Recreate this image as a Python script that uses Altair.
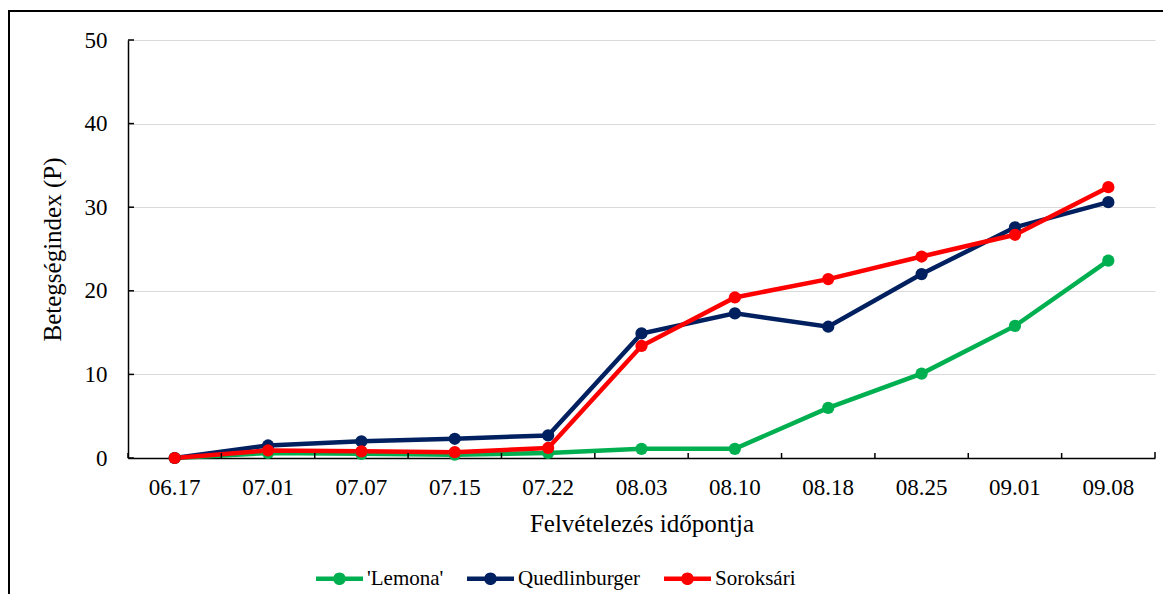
import altair as alt
import pandas as pd

dates = ["06.17", "07.01", "07.07", "07.15", "07.22", "08.03", "08.10", "08.18", "08.25", "09.01", "09.08"]
series_names = ["'Lemona'", "Quedlinburger", "Soroksári"]
lemona = [0.0, 0.6, 0.5, 0.4, 0.6, 1.1, 1.1, 6.0, 10.1, 15.8, 23.6]
quedlinburger = [0.0, 1.5, 2.0, 2.3, 2.7, 14.9, 17.3, 15.7, 22.0, 27.6, 30.6]
soroksari = [0.0, 0.9, 0.8, 0.7, 1.2, 13.4, 19.2, 21.4, 24.1, 26.7, 32.4]
colors = ["#00b050", "#002060", "#ff0000"]
y_ticks = [0, 10, 20, 30, 40, 50]

rows = []
for name, vals in zip(series_names, [lemona, quedlinburger, soroksari]):
    for d, v in zip(dates, vals):
        rows.append({"date": d, "series": name, "value": v})
df = pd.DataFrame(rows)
ytick_df = pd.DataFrame({"value": y_ticks})
xtick_df = pd.DataFrame({"date": dates})
one = pd.DataFrame({"a": [0]})

W, H = 1027, 418
FONT = "Liberation Serif, Times New Roman, Times, serif"

xscale = alt.Scale(type="band", paddingInner=0, paddingOuter=0)
yscale = alt.Scale(domain=[0, 50], nice=False)

x_axis = alt.Axis(
    title="Felvételezés időpontja", labelFont=FONT, labelFontSize=23, labelColor="black",
    labelFontWeight="normal",
    labelPadding=18, ticks=False, domainColor="black", domainWidth=1.5, labelAngle=0,
    titleFont=FONT, titleFontSize=25, titleFontWeight="normal", titleColor="black",
    titleX=W / 2, titleY=73, titleBaseline="alphabetic", titleAlign="center", grid=False,
)
y_axis = alt.Axis(
    values=y_ticks, title="Betegségindex (P)", labelFont=FONT, labelFontSize=23,
    labelFontWeight="normal",
    labelColor="black", labelPadding=21, ticks=False, domainColor="black", domainWidth=1.5,
    titleFont=FONT, titleFontSize=25, titleFontWeight="normal", titleColor="black",
    titleX=-68, titleY=H / 2, titleAngle=270, titleBaseline="alphabetic", titleAlign="center",
    gridColor="#d9d9d9", gridWidth=1.2,
)

PATH = ("M-1,-0.1L1,-0.1L1,0.1L-1,0.1Z "
        "M-0.27,0A0.27,0.27,0,1,1,0.27,0A0.27,0.27,0,1,1,-0.27,0Z")

legend = alt.Legend(
    title=None, orient="none", legendX=188, legendY=515, direction="horizontal", columns=3,
    symbolType=PATH, symbolSize=2209, symbolStrokeWidth=0, symbolOpacity=1,
    labelFont=FONT, labelFontSize=21, labelColor="black", labelOffset=4,
    columnPadding=23, padding=0,
)

def xenc(band=0.5):
    return alt.X("date:N", sort=dates, bandPosition=band, scale=xscale, axis=x_axis)

def yenc():
    return alt.Y("value:Q", scale=yscale, axis=y_axis)

cenc = alt.Color("series:N", sort=series_names,
                 scale=alt.Scale(domain=series_names, range=colors), legend=legend)

base = alt.Chart(df)
lines = base.mark_line(strokeWidth=4.5).encode(x=xenc(), y=yenc(), color=cenc)
points = base.mark_point(filled=True, size=150, opacity=1).encode(x=xenc(), y=yenc(), color=cenc)

ytick_rules = alt.Chart(ytick_df).mark_rule(color="black", strokeWidth=1.5).encode(
    y=yenc(), x=alt.value(0), x2=alt.value(6),
)
xtick_rules = alt.Chart(xtick_df).mark_rule(color="black", strokeWidth=1.5).encode(
    x=xenc(0), y=alt.value(H - 5), y2=alt.value(H),
)
end_tick = alt.Chart(one).mark_rule(color="black", strokeWidth=1.5).encode(
    x=alt.value(W), y=alt.value(H - 6), y2=alt.value(H),
)
frame_left = alt.Chart(one).mark_rule(color="black", strokeWidth=2).encode(
    x=alt.value(-119), y=alt.value(-29), y2=alt.value(H + 200),
)
frame_top = alt.Chart(one).mark_rule(color="black", strokeWidth=2).encode(
    x=alt.value(-120), x2=alt.value(W + 100), y=alt.value(-29),
)

chart = alt.layer(
    lines, points, ytick_rules, xtick_rules, end_tick, frame_left, frame_top
).properties(
    width=W, height=H, background="white",
    padding={"left": 120, "top": 32, "right": 8, "bottom": 136},
    autosize=alt.AutoSizeParams(type="none"),
).configure_view(stroke=None)

chart.save("out.html", embed_options={"renderer": "svg", "actions": False})
